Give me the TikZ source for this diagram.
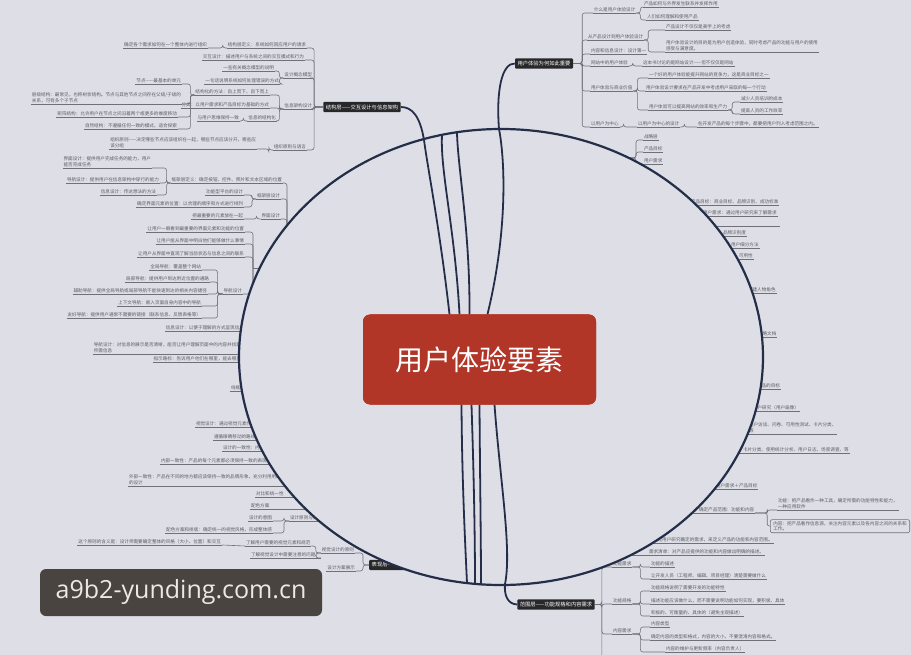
\documentclass[tikz,border=0pt]{standalone}
\usepackage{fontspec}
\newfontfamily\cjk{Noto Sans CJK SC}
\newfontfamily\wmfont{Open Sans}
\usetikzlibrary{positioning}
\definecolor{bgpaper}{RGB}{222,222,231}
\definecolor{leafgray}{RGB}{92,92,98}
\definecolor{linegray}{RGB}{112,112,120}
\definecolor{rimblue}{RGB}{36,46,72}
\definecolor{brick}{RGB}{178,54,40}
\definecolor{inkbox}{RGB}{40,40,42}
\definecolor{markbox}{RGB}{74,68,64}
\tikzset{
  leafbase/.style={font=\cjk\fontsize{4.6}{5.8}\selectfont, text=leafgray, inner sep=0.8pt, align=left},
  leaf/.style={leafbase, anchor=south west,
    append after command={\pgfextra{\let\leafnode\tikzlastnode} (\leafnode.south west) edge[uline] (\leafnode.south east)}},
  leafl/.style={leaf, anchor=south east},
  leafbox/.style={leafbase, anchor=south west, draw=linegray, line width=0.6pt, rounded corners=2pt, inner xsep=3pt, inner ysep=1.5pt},
  uline/.style={draw=linegray, line width=0.6pt},
  conn/.style={draw=linegray, line width=0.6pt, rounded corners=2.5pt},
  layer/.style={font=\cjk\fontsize{5.3}{6.4}\selectfont, text=white, fill=inkbox, inner xsep=2.5pt, inner ysep=2.6pt, rounded corners=1pt},
  spoke/.style={draw=rimblue, line width=1.8pt},
  rim/.style={fill=bgpaper, draw=rimblue, line width=2.2pt},
}
\begin{document}
\begin{tikzpicture}[x=1pt,y=-1pt]
\useasboundingbox (0,0) rectangle (911,655);
\fill[bgpaper] (0,0) rectangle (911,655);

% 用户体验为何如此重要
\node[layer] (n2) at (544,63.5) {用户体验为何如此重要};
\node[leaf] (a1) at (593,13) {什么是用户体验设计};
\node[leaf] (a1a) at (643,7) {产品如何与外界发生联系并发挥作用};
\node[leaf] (a1b) at (646,20) {人们如何理解和使用产品};
\node[leaf] (a2) at (587,40) {从产品设计到用户体验设计};
\node[leaf] (a2a) at (665,30) {产品设计不仅仅是美学上的考虑};
\node[leaf] (a2b) at (665,52) {用户体验设计的目的是为用户创造体验，同时考虑产品的功能与用户的使用\\感受与满意度。};
\node[leaf] (a3) at (590,54) {内容和信息设计：设计第一};
\node[leaf] (a4) at (590,66) {网站中的用户体验};
\node[leaf] (a4a) at (642,66) {这本书讨论的是网站设计——但不仅仅是网站};
\node[leaf] (a5) at (590,91) {用户体验与商业价值};
\node[leaf] (a5a) at (648,78) {一个好的用户体验能提升网站的竞争力，这是商业目标之一};
\node[leaf] (a5b) at (645,91) {用户体验设计要求在产品开发中考虑用户采取的每一个行动};
\node[leaf] (a5c) at (648,110) {用户体验可以提高网站的效率和生产力};
\node[leaf] (a5c1) at (740,102) {减少人员培训的成本};
\node[leaf] (a5c2) at (740,114) {提高人员的工作效率};
\node[leaf] (a6) at (590,127) {以用户为中心};
\node[leaf] (a6a) at (637,127) {以用户为中心的设计};
\node[leaf] (a6b) at (697,127) {在开发产品的每个步骤中，都要把用户列入考虑范围之内。};
\foreach \ch in {a1,a2,a3,a4,a5,a6}
  \draw[conn] (n2.east) -- ++(9,0) |- (\ch.south west);
\foreach \pa/\ch in {a1/a1a,a1/a1b,a2/a2a,a2/a2b,a4/a4a,a5/a5a,a5/a5b,a5/a5c,a5c/a5c1,a5c/a5c2,a6/a6a,a6a/a6b}
  \draw[conn] (\pa.south east) -- ++(4,0) |- (\ch.south west);

% 结构层
\node[layer] (n1) at (362,107) {结构层——交互设计与信息架构};
\node[leafl] (b1) at (307,48) {结构层定义：系统如何回应用户的请求};
\node[leafl] (b1a) at (208,48) {确定各个需求如何在一个整体内进行组织};
\node[leafl] (b2) at (305,60) {交互设计：描述用户与系统之间的交互模式和行为};
\node[leafl] (b3) at (313,78) {设计概念模型};
\node[leafl] (b3a) at (275,71) {一些有关概念模型的说明};
\node[leafl] (b3b) at (280,84) {一句话说明系统如何处理错误的方式};
\node[leafl] (b4) at (313,109) {信息架构设计};
\node[leafl] (b4a) at (270,95) {结构化的方法：自上而下、自下而上};
\node[leafl] (b4b) at (270,108) {分类：以用户需求和产品目标为基础的方式};
\node[leafl] (b4c) at (277,121) {信息的结构化};
\node[leafl] (b4c1) at (240,121) {与用户思维保持一致};
\node[leafl] (b4a1) at (182,84) {节点——最基本的单元};
\node[leafl] (b4a2) at (182,104) {层级结构：最常见，也称树状结构。节点与其他节点之间存在父级/子级的\\关系，可有多个子节点};
\node[leafl] (b4a3) at (178,117) {矩阵结构：允许用户在节点之间沿着两个或更多的维度移动};
\node[leafl] (b4a4) at (178,129) {自然结构：不遵循任何一致的模式，适合探索};
\node[leafl] (b5) at (307,150) {组织原则与语言};
\node[leafl] (b5a) at (257,149) {组织原则——决定哪些节点应该组织在一起，哪些节点应该分开，哪些应\\该分组};
\foreach \ch in {b1,b2,b3,b4,b5}
  \draw[conn] (n1.west) -- ++(-9,0) |- (\ch.south east);
\foreach \pa/\ch in {b1/b1a,b3/b3a,b3/b3b,b4/b4a,b4/b4b,b4/b4c,b4c/b4c1,b4a/b4a1,b4a/b4a2,b4a/b4a3,b4a/b4a4,b5/b5a}
  \draw[conn] (\pa.south west) -- ++(-4,0) |- (\ch.south east);

% 框架层 (parent hidden in the ellipse)
\coordinate (kj) at (287,240);
\node[leafl] (c1a) at (283,183) {框架层定义：确定按钮、控件、照片和文本区域的位置};
\node[leafl] (c1a1) at (152,168) {界面设计：提供用户完成任务的能力，用户\\能否完成任务};
\node[leafl] (c1a2) at (160,183) {导航设计：提供用户在信息架构中穿行的能力};
\node[leafl] (c1a3) at (157,195) {信息设计：传达想法的方法};
\node[leafl] (c1) at (281,199) {框架层设计};
\node[leafl] (c1b) at (244,195) {功能型平台的设计};
\node[leafl] (c1c) at (244,207) {确定界面元素的位置：以合理的顺序和方式进行排列};
\node[leafl] (c2) at (281,219) {界面设计};
\node[leafl] (c2a) at (244,219) {把最重要的元素放在一起};
\foreach \ch in {c1a,c1,c2}
  \draw[conn] (kj) |- (\ch.south east);
\foreach \pa/\ch in {c1a/c1a1,c1a/c1a2,c1a/c1a3,c1/c1b,c1/c1c,c2/c2a}
  \draw[conn] (\pa.south west) -- ++(-4,0) |- (\ch.south east);

\coordinate (kd) at (253,268);
\node[leafl] (k1) at (245,232) {让用户一眼看到最重要的界面元素和功能的位置};
\node[leafl] (k2) at (245,244) {让用户能从界面中明白他们能够做什么事情};
\node[leafl] (k3) at (245,257) {让用户从界面中直观了解当前状态与信息之间的联系};
\node[leafl] (k4) at (243,294) {导航设计};
\node[leafl] (k4a) at (202,270) {全局导航：覆盖整个网站};
\node[leafl] (k4b) at (210,282) {局部导航：提供用户到达附近位置的通路};
\node[leafl] (k4c) at (208,294) {辅助导航：提供全局导航或局部导航不能快速到达的相关内容捷径};
\node[leafl] (k4d) at (202,306) {上下文导航：嵌入页面自身内容中的导航};
\node[leafl] (k4e) at (202,318) {友好导航：提供用户通常不需要的链接（联系信息、反馈表格等）};
\node[leafl] (k5) at (245,331) {信息设计：以便于理解的方式呈现信息};
\foreach \ch in {k1,k2,k3,k4,k5}
  \draw[conn] (kd) |- (\ch.south east);
\draw[conn] (kd) -- ++(20,0);
\foreach \ch in {k4a,k4b,k4c,k4d,k4e}
  \draw[conn] (k4.south west) -- ++(-5,0) |- (\ch.south east);

% 表现层 leaves on the lower left
\node[leafl] (m1) at (242,354) {导航设计：对信息的展示是否清晰，能否让用户理解页面中的内容并找到\\所需信息};
\node[leafl] (m2) at (242,362) {指示路标：告诉用户他们在哪里，能去哪里};
\node[leaf] (m3) at (230,391) {线框图：整合三种设计};
\node[leaf] (m4) at (195,427) {视觉设计：通过视觉元素传达信息};
\node[leaf] (m5) at (213,440) {遵循眼睛移动的路线：焦点};
\node[leaf] (m6) at (222,451) {设计的一致性：内部与外部};
\node[leaf] (m7) at (160,464) {内部一致性：产品的每个元素都必须保持一致的表现形式};
\node[leaf] (m8) at (128,486) {外部一致性：产品在不同的地方都应该保持一致的品牌形象，充分利用用户熟悉\\的设计};
\node[leaf] (m9) at (255,497) {对比和统一性};
\node[leaf] (m10) at (250,509) {配色方案};
\node[leaf] (m11r) at (289,521) {设计原则与规范};
\node[leafl] (m11) at (273,521) {设计的意图};
\node[leafl] (m12) at (273,533) {配色方案和排版：确定统一的视觉风格，形成整体感};
\foreach \ch in {m1,m2,m4,m5,m6,m7,m8,m9,m10}
  \draw[conn] (\ch.south east) -- ++(40,0);
\foreach \ch in {m11,m12}
  \draw[conn] (m11r.south west) -- ++(-5,0) |- (\ch.south east);

% 表现层
\node[layer, anchor=west] (n4) at (369,565) {表现层——感知设计};
\node[leafl] (e1) at (355,553) {视觉设计的原则};
\node[leafl] (e2) at (356,571) {设计方案展示};
\node[leaf] (e1a) at (245,546) {了解用户需要的视觉元素和规范};
\node[leaf] (e1b) at (250,558) {了解视觉设计中需要注意的问题。};
\node[leafl] (f1) at (222,545) {这个原则的含义是：设计师需要确定整体的风格（大小、位置）和交互};
\foreach \ch in {e1,e2}
  \draw[conn] (n4.west) -- ++(-6,0) |- (\ch.south east);
\foreach \ch in {e1a,e1b}
  \draw[conn] (e1.south west) -- ++(-5,0) |- (\ch.south east);
\draw[conn] (e1a.south west) -- (f1.south east);

% 战略层 leaves on the right
\coordinate (g0) at (600,158);
\node[leaf] (g1) at (643,140) {战略层};
\node[leaf] (g2) at (643,152) {产品目标};
\node[leaf] (g3) at (643,164) {用户需求};
\foreach \ch in {g1,g2,g3}
  \draw[conn] (g0) -- ++(36,0) |- (\ch.south west);
\node[leaf] (r1) at (690,205) {产品目标：商业目标、品牌识别、成功标准};
\node[leaf] (r2) at (702,216) {用户需求：通过用户研究来了解需求};
\coordinate (r3) at (690,226);
\draw[conn] (r3) -- ++(90,0);
\node[leaf] (r4) at (722,236) {品牌识别度};
\node[leaf] (r5) at (730,248) {用户细分方法};
\node[leaf] (r6) at (738,259) {可用性};
\node[leaf] (r7) at (747,293) {创建人物角色};
\node[leaf] (r8) at (757,337) {战略文档};
\node[leaf] (r9) at (756,389) {产品的目标};
\node[leaf] (r10) at (752,411) {用户研究（用户画像）};
\node[leaf] (r11) at (748,434) {用户访谈、问卷、可用性测试、卡片分类、\\等};
\node[leaf] (r12) at (742,453) {卡片分类、使用统计分析、用户日志、场景调查、等};
\node[leaf] (r13) at (715,489) {用户需求＋产品目标};
\node[leaf] (r14) at (698,513) {确定产品范围：功能和内容};
\node[leaf] (r14a) at (777,510) {功能：把产品看作一种工具，确定所需的功能特性和能力，\\一种应用软件};
\node[leafbox] (r14b) at (770,533) {内容：把产品看作信息源，关注内容元素以及各内容之间的关系和\\工作。};
\foreach \ch in {r1,r2,r4,r5,r6,r7,r8,r9,r10,r11,r12,r13,r14}
  \draw[conn] (\ch.south west) -- ++(-40,0);
\draw[conn] (r14.south east) -- ++(12,0) |- (r14a.south west);
\draw[conn] (r14.south east) -- ++(12,0) |- (r14b.west);

% 范围层
\node[layer] (n3) at (556,604.5) {范围层——功能规格和内容需求};
\node[leaf] (d0a) at (652,543) {通过用户研究确定的需求，来定义产品的功能和内容范围。};
\node[leaf] (d0b) at (648,555) {需求清单：对产品应提供的功能和内容做出明确的描述。};
\node[leaf] (d1) at (612,567) {功能需求};
\node[leaf] (d1a) at (650,567) {功能的描述};
\node[leaf] (d1b) at (650,579) {让开发人员（工程师、编辑、项目经理）清楚需要做什么};
\node[leaf] (d2) at (612,604) {功能规格};
\node[leaf] (d2a) at (650,591) {功能规格说明了需要开发的功能特性};
\node[leaf] (d2b) at (650,604) {描述功能应该做什么，而不需要说明功能如何实现，要积极、具体};
\node[leaf] (d2c) at (650,616) {积极的、可衡量的、具体的（避免主观描述）};
\node[leaf] (d3) at (612,634) {内容需求};
\node[leaf] (d3a) at (650,627) {内容类型};
\node[leaf] (d3b) at (650,640) {确定内容的类型和格式，内容的大小，不要混淆内容和格式。};
\node[leaf] (d3c) at (665,652) {内容的维护与更新频率（内容负责人）};
\coordinate (d4) at (612,662);
\foreach \ch in {d1,d2,d3,d4}
  \draw[conn] (n3.east) -- ++(7,0) |- (\ch.south west);
\foreach \ch in {d0a,d0b}
  \draw[conn] (\ch.south west) -- ++(-30,0);
\foreach \pa/\ch in {d1/d1a,d1/d1b,d2/d2a,d2/d2b,d2/d2c,d3/d3a,d3/d3b,d3/d3c}
  \draw[conn] (\pa.south east) -- ++(8,0) |- (\ch.south west);

% the big ring and the centre
\filldraw[rim] (501,357) ellipse [x radius=262pt, y radius=228pt];
\node[fill=brick, rounded corners=7pt, minimum width=233pt, minimum height=90pt,
  text=white, font=\cjk\fontsize{28}{30}\selectfont] (ctr) at (479.5,359.5) {};
\coordinate (t2) at (442,135);
\coordinate (t3) at (457,133);
\coordinate (u1) at (467,583);
\coordinate (u2) at (475,584);
\coordinate (u3) at (481,585);
\draw[spoke] ([xshift=-30pt]ctr.north) .. controls (440,230) and (428,170) .. (424,140)
  .. controls (420,116) and (412,107) .. (n1.east);
\draw[spoke] ([xshift=-20pt]ctr.north) .. controls (455,230) and (440,170) .. (t2);
\draw[spoke] ([xshift=-10pt]ctr.north) .. controls (470,230) and (458,170) .. (t3);
\draw[spoke] ([xshift=8pt]ctr.north) .. controls (508,230) and (505,160) .. (499,129)
  .. controls (496,90) and (502,63) .. (n2.west);
\draw[spoke] ([xshift=-18pt]ctr.south) .. controls (462,480) and (465,540) .. (u1);
\draw[spoke] ([xshift=-8pt]ctr.south) .. controls (474,480) and (475,540) .. (u2);
\draw[spoke] (ctr.south) .. controls (480,480) and (481,540) .. (u3);
\draw[spoke] ([xshift=15pt]ctr.south) .. controls (500,480) and (512,550) .. (505,584)
  .. controls (504,596) and (508,604) .. (n3.west);
\node[fill=brick, rounded corners=7pt, minimum width=233pt, minimum height=90pt,
  text=white, font=\cjk\fontsize{28}{30}\selectfont] (title) at (ctr) {用户体验要素};

% watermark
\node[fill=markbox, rounded corners=6pt, minimum width=282pt, minimum height=47pt,
  text={rgb,255:red,236;green,233;blue,229}, font=\wmfont\fontsize{25}{28}\selectfont] (wm) at (181,592.5) {a9b2-yunding.com.cn};
\end{tikzpicture}
\end{document}
